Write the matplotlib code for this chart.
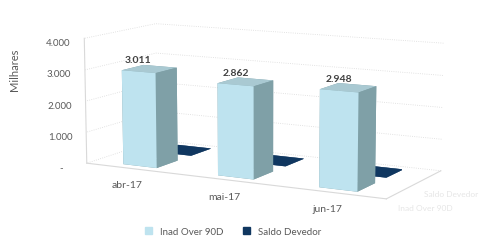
import matplotlib.pyplot as plt
import matplotlib.patches as mpatches
import numpy as np

# data
categories = ["abr-17", "mai-17", "jun-17"]
series = ["Inad Over 90D", "Saldo Devedor"]
inad = [3011, 2862, 2948]
saldo = [15, 15, 15]
z_ticks = [0, 1000, 2000, 3000, 4000]
z_labels = ["-", "1.000", "2.000", "3.000", "4.000"]

c_front = "#BEE3EF"
c_side = "#7FA0A7"
c_top = "#A9C9D2"
c_saldo = "#103760"
txt = "#595959"

plt.rcParams["font.family"] = ["Lato", "DejaVu Sans"]

fig = plt.figure(figsize=(4.96, 2.51), dpi=100)
ax = fig.add_axes([-0.08, -0.01, 1.2, 1.15], projection="3d")
ax.view_init(elev=10, azim=-62)
ax.set_proj_type("persp", focal_length=1.0)
ax.set_box_aspect((4.4, 1.8, 1.7), zoom=1.28)

x = np.arange(len(categories))
w, d = 0.36, 0.6
faces = [c_side, c_top, c_front, c_side, c_side, c_side]
ax.bar3d(x - w / 2, np.zeros(len(x)) - d / 2, np.zeros(len(x)), w, d, inad,
         color=faces * len(x), shade=False, edgecolor="none")
ax.bar3d(x - w / 2, np.ones(len(x)) - d / 2, np.zeros(len(x)), w, d, saldo,
         color=c_saldo, shade=False, edgecolor="none")

for xi, v in zip(x, inad):
    ax.text(xi, -d / 2, v + 300, f"{v:,}".replace(",", "."),
            fontsize=7.5, fontweight="bold", color="#404040", ha="center")

ax.set_xlim(-0.5, 2.5)
ax.set_ylim(-0.5, 1.5)
ax.set_zlim(0, 4000)
ax.set_xticks(x)
ax.set_xticklabels(categories, fontsize=7.5, color=txt)
ax.set_yticks([0, 1])
ax.set_yticklabels(series, fontsize=6, color="#E6E6E6")
ax.set_zticks(z_ticks)
ax.set_zticklabels(z_labels, fontsize=7, color=txt)
ax.zaxis.set_ticks_position("lower")

for a in (ax.xaxis, ax.yaxis, ax.zaxis):
    a.set_pane_color((1, 1, 1, 0))
    a.line.set_color("#D9D9D9")
    a._axinfo["grid"]["color"] = "#DADADA"
    a._axinfo["grid"]["linewidth"] = 0.6
    a._axinfo["grid"]["linestyle"] = ":"
    a._axinfo["tick"]["inward_factor"] = 0
    a._axinfo["tick"]["outward_factor"] = 0
ax.xaxis._axinfo["grid"]["linewidth"] = 0
ax.yaxis._axinfo["grid"]["linewidth"] = 0
ax.tick_params(axis="both", pad=0)

fig.text(0.03, 0.72, "Milhares", rotation=90, fontsize=8, color=txt,
         ha="center", va="center")

handles = [mpatches.Patch(color=c_front, label=series[0]),
           mpatches.Patch(color=c_saldo, label=series[1])]
fig.legend(handles=handles, loc="lower center", ncol=2, frameon=False,
           fontsize=7, handlelength=0.7, handleheight=0.7, labelcolor=txt,
           bbox_to_anchor=(0.47, 0.02))

fig.savefig("out.png", dpi=100)
